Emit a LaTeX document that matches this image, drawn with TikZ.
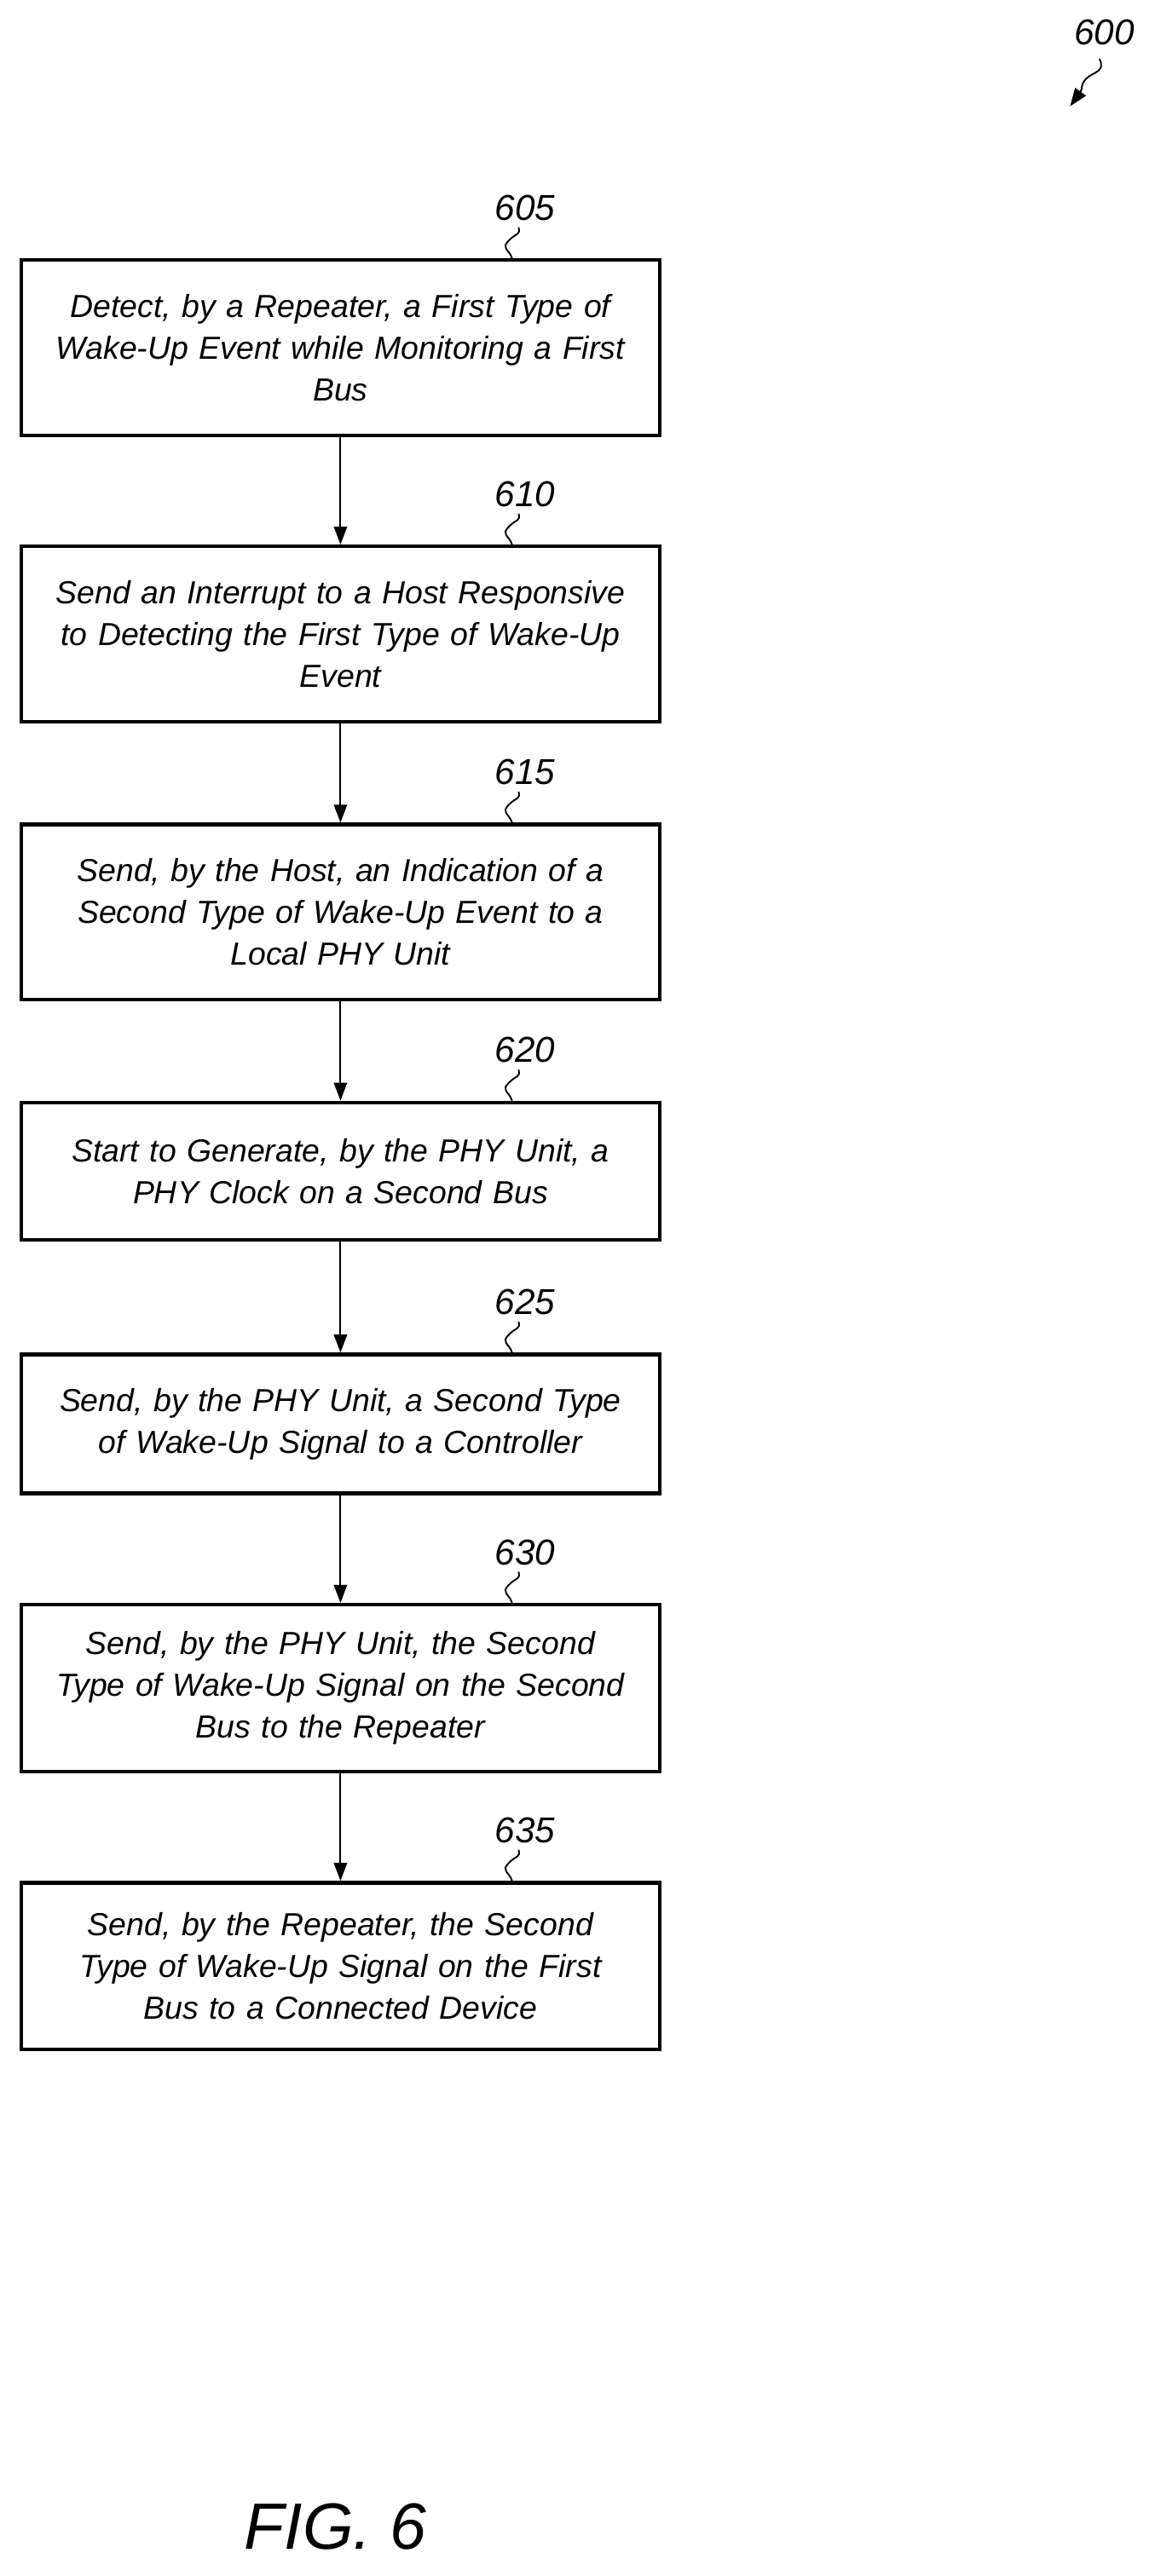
\documentclass[tikz,border=0pt]{standalone}
\usepackage{fontspec}
\setmainfont{Liberation Sans}
\usetikzlibrary{arrows.meta}
\begin{document}
\begin{tikzpicture}[x=1pt,y=-1pt,
  box/.style={draw=black,line width=2.2pt,minimum width=390pt,text width=372pt,align=center,inner sep=0pt,
    font=\fontsize{19.5}{25.5}\selectfont\itshape,anchor=north west},
  lbl/.style={font=\fontsize{22}{24}\selectfont\itshape},
  arr/.style={line width=1pt,-{Triangle[length=11pt,width=8pt]}},
  sq/.style={line width=1pt}]
\useasboundingbox (0,0) rectangle (709.5,1575);
\newcommand\stp[5]{%
  \node[box,minimum height=#3pt] (#1) at (12,#2) {#4};
  \node[lbl] (l#1) at (321,{#2-31}) {#5};
  \draw[sq] (313,#2) .. controls (311,{#2-6}) and (306,{#2-6}) .. (311,{#2-11}) .. controls (316,{#2-16}) and (318,{#2-14}) .. (317,{#2-19});}
\stp{a}{158}{107}{Detect, by a Repeater, a First Type of\\Wake-Up Event while Monitoring a First\\Bus}{605}
\stp{b}{333}{107}{Send an Interrupt to a Host Responsive\\to Detecting the First Type of Wake-Up\\Event}{610}
\stp{c}{503}{107}{Send, by the Host, an Indication of a\\Second Type of Wake-Up Event to a\\Local PHY Unit}{615}
\stp{d}{673}{84}{Start to Generate, by the PHY Unit, a\\PHY Clock on a Second Bus}{620}
\stp{e}{827}{85}{Send, by the PHY Unit, a Second Type\\of Wake-Up Signal to a Controller}{625}
\stp{f}{980}{102}{Send, by the PHY Unit, the Second\\Type of Wake-Up Signal on the Second\\Bus to the Repeater}{630}
\stp{g}{1150}{102}{Send, by the Repeater, the Second\\Type of Wake-Up Signal on the First\\Bus to a Connected Device}{635}
\foreach \u/\v in {a/b,b/c,c/d,d/e,e/f,f/g}
  \draw[arr] (\u.south) -- (\v.north);
\node[lbl] (n600) at (675,20) {600};
\coordinate (t600) at (654,65);
\draw[line width=1pt,-{Triangle[length=11pt,width=8pt]}] (672,36) .. controls (676,44) and (668,44) .. (664,48) .. controls (660,52) and (662,54) .. (t600);
\node[font=\fontsize{40}{44}\selectfont\itshape] (fig) at (205,1545) {FIG. 6};
\end{tikzpicture}
\end{document}
